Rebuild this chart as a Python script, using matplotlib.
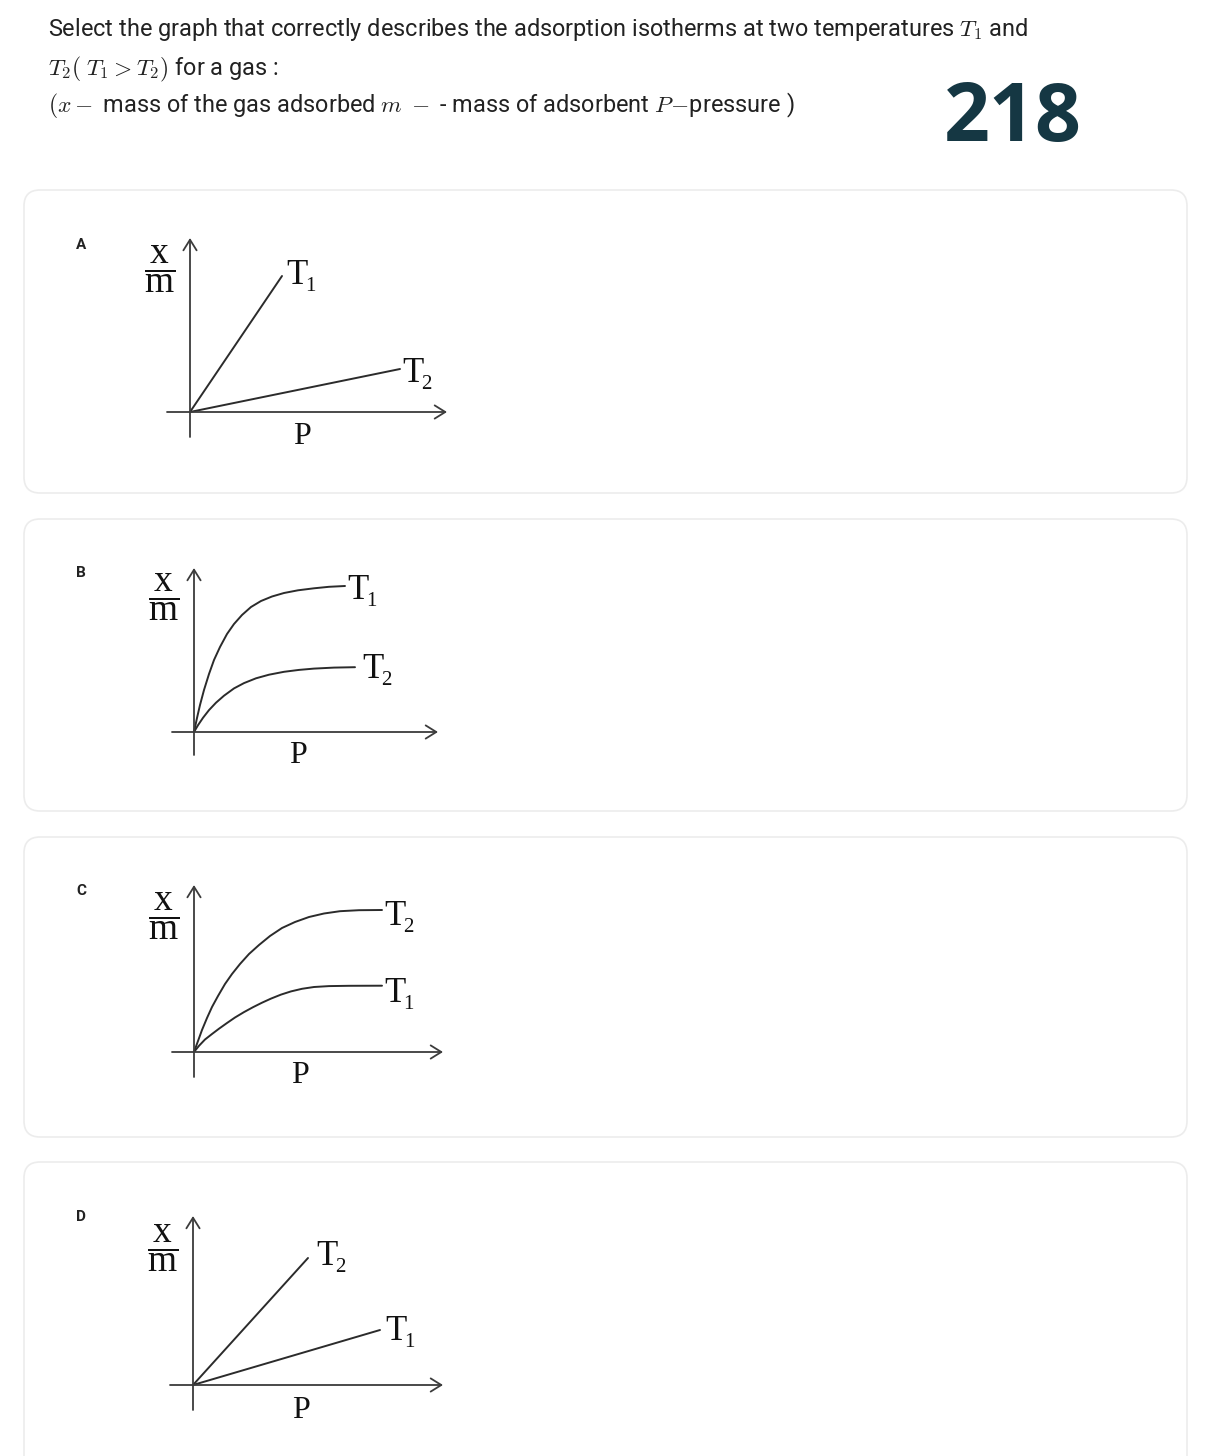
import matplotlib
matplotlib.use("Agg")
import matplotlib.pyplot as plt
from matplotlib.patches import FancyBboxPatch

plt.rcParams['mathtext.fontset'] = 'cm'

W, H = 1224, 1456

# sketch values, in the units of each little drawing (x = P, y = x/m)
A_T1_P = [0, 92]
A_T1_xm = [0, 136]
A_T2_P = [0, 210]
A_T2_xm = [0, 43]

B_T1_P = [0, 3, 6, 10, 15, 20, 26, 33, 40, 48, 57, 67, 78, 90, 104, 120, 135, 151]
B_T1_xm = [0, 14, 27, 42, 58, 72, 85, 98, 108, 117, 125, 131, 135.5, 139, 141.7, 143.7, 145.2, 146]
B_T2_P = [0, 4, 9, 15, 22, 30, 40, 50, 62, 75, 90, 105, 120, 140, 161]
B_T2_xm = [0, 6.8, 14.2, 21.9, 29.3, 36.3, 43.6, 48.9, 53.7, 57.3, 60.2, 62.1, 63.4, 64.4, 64.8]

C_T2_P = [0, 4, 8, 13, 18, 24, 31, 38, 46, 55, 65, 76, 88, 101, 115, 130, 146, 165, 188]
C_T2_xm = [0, 11, 22, 34, 45, 56, 68, 78, 88, 98, 107, 116, 124, 130, 135, 138.5, 140.8, 141.8, 142]
C_T1_P = [0, 5, 11, 18, 25, 33, 41, 50, 59, 68, 77, 87, 97, 108, 120, 135, 155, 188]
C_T1_xm = [0, 6.2, 12.5, 18, 23.3, 29, 34.5, 39.9, 44.8, 49.3, 53.4, 57.4, 60.6, 63.2, 65, 65.9, 66.2, 66.3]

D_T2_P = [0, 115]
D_T2_xm = [0, 127]
D_T1_P = [0, 187]
D_T1_xm = [0, 55]

options = ['A', 'B', 'C', 'D']
card_top = [190, 519, 837, 1162]
card_bottom = [493, 811, 1137, 1475]
letter_y = [245, 573, 891, 1217]

fig = plt.figure(figsize=(W / 100, H / 100), dpi=100)
bg = fig.add_axes([0, 0, 1, 1])
bg.set_xlim(0, W)
bg.set_ylim(H, 0)
bg.axis('off')

# question text
txt = dict(family='Roboto', fontsize=16.9, color='#222222', va='baseline')
bg.text(48, 36, r'Select the graph that correctly describes the adsorption isotherms at two temperatures $T_1$ and', **txt)
bg.text(48, 75, r'$T_2(\;T_1 > T_2)$ for a gas :', **txt)
bg.text(48, 112, r'$(x-$ mass of the gas adsorbed $m\;-$ - mass of adsorbent $P\!-\!$pressure )', **txt)
bg.text(1013, 120, '218', family='Open Sans', fontweight='bold', fontsize=58,
        color='#153743', ha='center', va='center')

for lab, t, b, ly in zip(options, card_top, card_bottom, letter_y):
    bg.add_patch(FancyBboxPatch((24, t), 1163, b - t, boxstyle='round,pad=0,rounding_size=16',
                                fc='white', ec='#ececec', lw=1.2))
    bg.text(81, ly, lab, family='Roboto', fontweight='bold', fontsize=11, color='#222222',
            ha='center', va='center')


def sketch(ox, oy, yaxis, xaxis, curves, labels, frac_y, p_pos):
    # axes where one data unit is one pixel, origin at the axes crossing
    ax = fig.add_axes([(ox - 70) / W, 1 - (oy + 60) / H, 360 / W, 270 / H])
    ax.set_xlim(-70, 290)
    ax.set_ylim(-60, 210)
    ax.axis('off')
    arr = dict(arrowstyle='->,head_length=0.45,head_width=0.28', color='#3c3c3c',
               lw=1.3, shrinkA=0, shrinkB=0, mutation_scale=17)
    ax.annotate('', xy=(0, yaxis[1]), xytext=(0, yaxis[0]), arrowprops=arr, annotation_clip=False)
    ax.annotate('', xy=(xaxis[1], 0), xytext=(xaxis[0], 0), arrowprops=arr, annotation_clip=False)
    for p, v in curves:
        ax.plot(p, v, color='#2b2b2b', lw=1.4, solid_capstyle='round',
                solid_joinstyle='round', clip_on=False)
    serif = dict(family='Liberation Serif', color='#111111', clip_on=False)
    for name, (lx, ly) in labels:
        ax.text(lx, ly, 'T', fontsize=25, va='baseline', **serif)
        ax.text(lx + 19, ly - 7, name[1], fontsize=15, va='baseline', **serif)
    ax.text(-30, frac_y, r'$\dfrac{\mathregular{x}}{\mathregular{m}}$', fontsize=27,
            ha='center', va='center', **serif)
    ax.text(p_pos[0], p_pos[1], 'P', fontsize=23, ha='center', va='baseline', **serif)


sketch(190, 412, (-25, 174), (-23, 257),
       [(A_T1_P, A_T1_xm), (A_T2_P, A_T2_xm)],
       [('T1', (96, 128)), ('T2', (212, 30))], 143, (112, -32))
sketch(194, 732, (-23, 164), (-22, 244),
       [(B_T1_P, B_T1_xm), (B_T2_P, B_T2_xm)],
       [('T1', (153, 133)), ('T2', (168, 54))], 135, (104, -31))
sketch(194, 1052, (-25, 167), (-22, 249),
       [(C_T2_P, C_T2_xm), (C_T1_P, C_T1_xm)],
       [('T2', (190, 127)), ('T1', (190, 50))], 136, (106, -31))
sketch(193, 1385, (-25, 169), (-23, 250),
       [(D_T2_P, D_T2_xm), (D_T1_P, D_T1_xm)],
       [('T2', (123, 120)), ('T1', (192, 45))], 137, (108, -33))

fig.savefig('out.png', dpi=100, facecolor='white')
